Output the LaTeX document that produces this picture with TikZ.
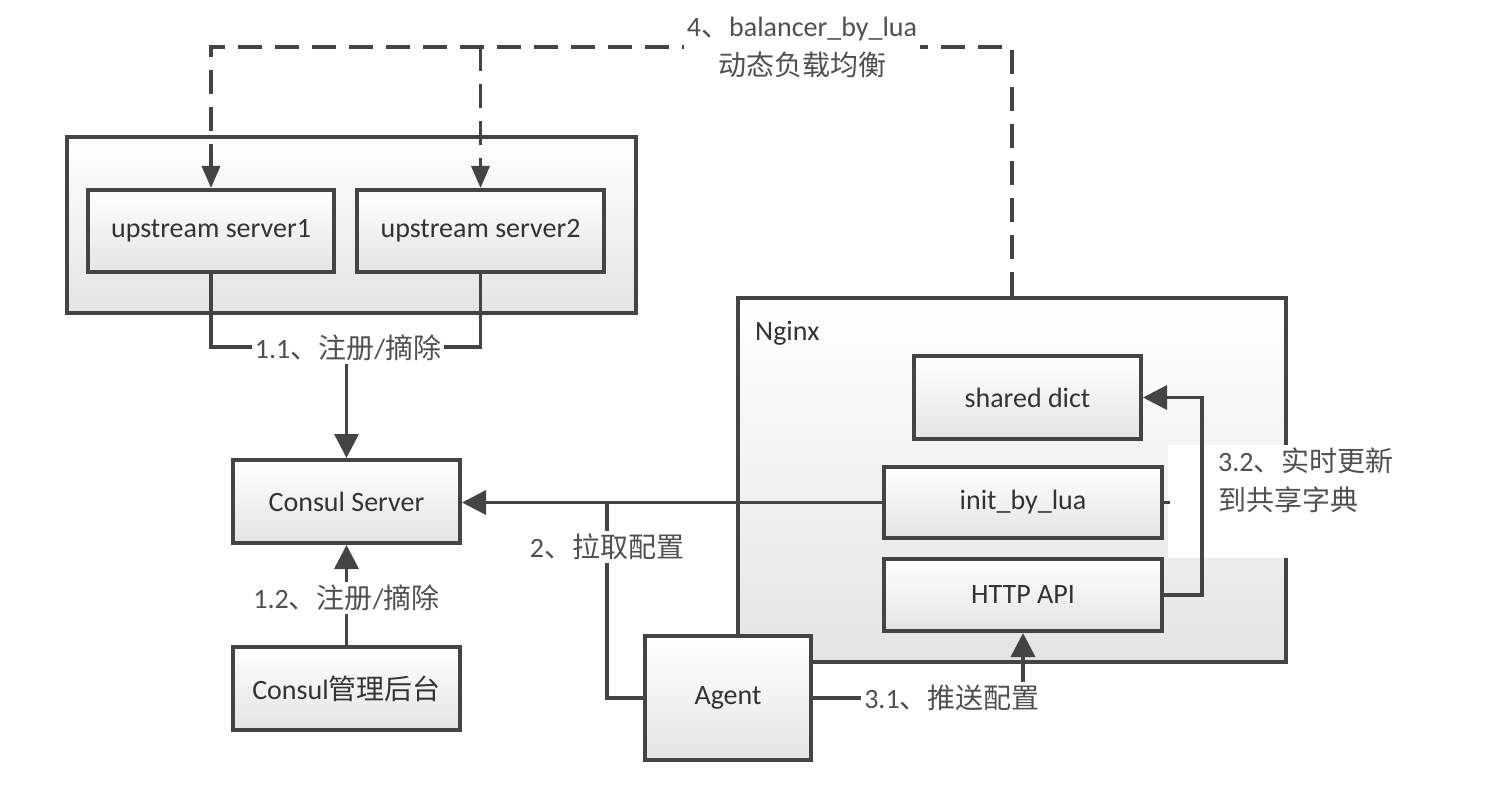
\documentclass[tikz,border=0pt]{standalone}
\usepackage{fontspec}
\setmainfont{Carlito}
\newfontfamily\cjk{Noto Sans CJK SC}
\usetikzlibrary{arrows.meta}
\definecolor{ln}{HTML}{444444}
\definecolor{tx}{HTML}{333333}
\definecolor{lb}{HTML}{505050}
\definecolor{bot}{HTML}{E4E4E4}
\newcommand{\zh}[1]{{\cjk #1}}
\begin{document}
\begin{tikzpicture}[x=1pt,y=-1pt,
  font=\fontsize{28}{39}\selectfont,
  box/.style={draw=ln, line width=4pt, top color=white, bottom color=bot, text=tx, inner sep=0pt},
  lbl/.style={fill=white, text=lb, inner sep=3pt},
  conn/.style={draw=ln, line width=3.5pt},
  arr/.style={conn, -{Triangle[length=24pt,width=24pt]}},
  dsh/.style={conn, dash pattern=on 24pt off 13pt, -{Triangle[length=22pt,width=18pt]}}]
\useasboundingbox (0,0) rectangle (1492,802);
% group and boxes
\node[box, minimum width=569pt, minimum height=176pt] (grp) at (351.5,225) {};
\node[box, minimum width=246pt, minimum height=82pt] (us1) at (211,231) {upstream server1};
\node[box, minimum width=247pt, minimum height=82pt] (us2) at (480.5,231) {upstream server2};
\node[box, minimum width=548pt, minimum height=364pt] (nginx) at (1012,480) {};
\node[fill=white, inner sep=0pt, minimum width=252pt, minimum height=113pt, anchor=north west] (patch) at (1168,445) {};
\node[text=tx, anchor=west, inner sep=0pt] (ngt) at (755,333) {Nginx};
\node[box, minimum width=227pt, minimum height=83pt] (shared) at (1027.5,397.5) {shared dict};
\node[box, minimum width=278pt, minimum height=71pt] (init) at (1023,502.5) {init\_by\_lua};
\node[box, minimum width=278pt, minimum height=72pt] (http) at (1023,595) {HTTP API};
\node[box, minimum width=166pt, minimum height=124pt] (agent) at (728,698) {Agent};
\node[box, minimum width=227pt, minimum height=83pt] (cserver) at (346.5,501.5) {Consul Server};
\node[box, minimum width=227pt, minimum height=83pt] (cadmin) at (346.5,688.5) {Consul\zh{管理后台}};
% connectors
\coordinate (top) at (0,47);
\coordinate (j2) at (607,502.5);
\draw[dsh] (nginx.north) -- (nginx.north |- top) -| (us1.north);
\draw[dsh] (us2.north |- top) -- (us2.north);
\draw[conn] (us1.south) -- ++(0,73) -| (us2.south);
\draw[arr] (cadmin.north) -- (cserver.south);
\draw[arr] (init.west) -- (init.west -| cserver.east);
\draw[conn] (agent.west) -| (j2);
\draw[conn] (init.east) -- ++(6,0);
\draw[arr] (agent.east) -| (http.south);
\draw[arr] (http.east) -- ++(38,0) |- (shared.east);
% labels
\node[lbl] (l11) at (348,348) {1.1\zh{、注册}/\zh{摘除}};
\draw[arr] (l11.south -| cserver.north) -- (cserver.north);
\node[lbl] (l12) at (346.5,598) {1.2\zh{、注册}/\zh{摘除}};
\node[lbl] (l2) at (607,547) {2\zh{、拉取配置}};
\node[lbl] (l31) at (952,698) {3.1\zh{、推送配置}};
\node[text=lb, inner sep=0pt, align=left, anchor=north west] (l32) at (1218,448) {3.2\zh{、实时更新}\\\zh{到共享字典}};
\node[lbl, align=center] (l4) at (802,47) {4\zh{、}balancer\_by\_lua\\\zh{动态负载均衡}};
\end{tikzpicture}
\end{document}
